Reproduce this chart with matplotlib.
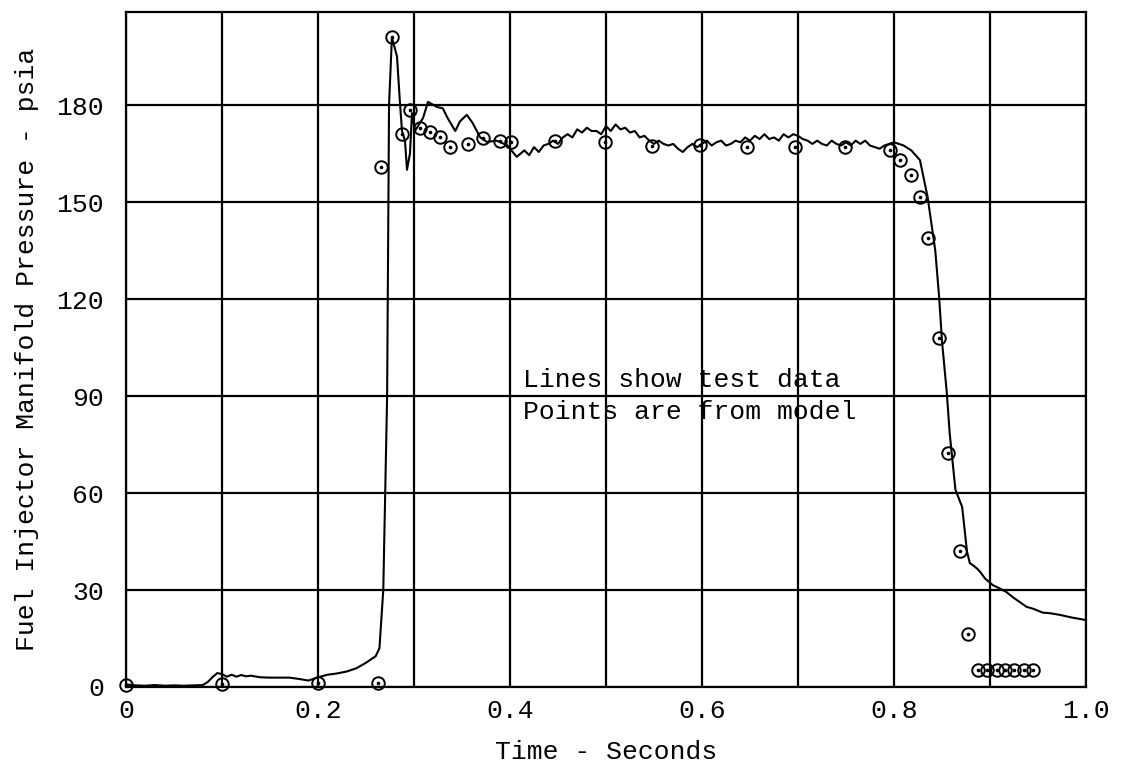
import matplotlib
matplotlib.use("Agg")
import matplotlib.pyplot as plt
from matplotlib.ticker import MultipleLocator

# ---- test data (line) ----
line_t = [0.0, 0.01, 0.02, 0.03, 0.04, 0.05, 0.06, 0.07, 0.08, 0.085, 0.09, 0.095,
          0.10, 0.105, 0.11, 0.115, 0.12, 0.125, 0.13, 0.14, 0.15, 0.16, 0.17, 0.18,
          0.19, 0.20, 0.21, 0.22, 0.23, 0.24, 0.25, 0.26, 0.264, 0.268, 0.272, 0.274,
          0.277, 0.2823, 0.2854, 0.2875, 0.2906, 0.2927, 0.2958, 0.2979, 0.301, 0.3094,
          0.3146, 0.324, 0.330, 0.335, 0.343, 0.348, 0.355, 0.361, 0.369, 0.376, 0.386,
          0.397, 0.407,
          0.415, 0.42, 0.425, 0.43, 0.435, 0.44, 0.445, 0.45, 0.455, 0.46, 0.465, 0.47,
          0.475, 0.48, 0.485, 0.49, 0.495, 0.50, 0.505, 0.51, 0.515, 0.52, 0.525, 0.53,
          0.535, 0.54, 0.545, 0.55, 0.555, 0.56, 0.565, 0.57, 0.575, 0.58, 0.585, 0.59,
          0.595, 0.60, 0.605, 0.61, 0.615, 0.62, 0.625, 0.63, 0.635, 0.64, 0.645, 0.65,
          0.655, 0.66, 0.665, 0.67, 0.675, 0.68, 0.685, 0.69, 0.695, 0.70, 0.705, 0.71,
          0.715, 0.72, 0.725, 0.73, 0.735, 0.74, 0.745, 0.75, 0.755, 0.76, 0.765, 0.77,
          0.775, 0.78, 0.785, 0.79, 0.795, 0.80, 0.805, 0.81, 0.818, 0.827, 0.835,
          0.843, 0.847, 0.85, 0.855, 0.858, 0.864, 0.871, 0.876, 0.879, 0.883, 0.887,
          0.89, 0.895, 0.903, 0.91, 0.917, 0.925, 0.93, 0.938, 0.945, 0.955, 0.963,
          0.973, 0.985, 1.0]
line_p = [0.8, 0.5, 0.4, 0.6, 0.4, 0.5, 0.4, 0.5, 0.6, 1.5, 3.0, 4.3,
          4.0, 3.2, 3.8, 3.2, 3.7, 3.3, 3.5, 3.0, 2.9, 2.9, 2.9, 2.5,
          2.0, 3.0, 3.8, 4.2, 4.8, 5.8, 7.5, 9.5, 12, 30, 90, 180,
          201, 195, 180.6, 172, 169, 160, 165, 177.5, 172, 176,
          181, 179.4, 179, 176, 172, 175, 177, 174.5, 170, 168.6, 169,
          167.6, 164,
          166, 164.5, 167, 165.5, 167.5, 168, 169, 168, 170, 171, 170, 172.5,
          171.5, 173, 172, 172, 171, 173.5, 172, 174, 172.5, 173, 171.5, 172,
          170, 170.5, 169, 168, 169, 168, 167.5, 168, 166.5, 165.5, 167, 168,
          167, 168, 169, 167.5, 168.5, 169, 167.5, 168, 169, 168.5, 170, 169,
          170.5, 169.5, 171, 169.5, 170, 169, 171, 170, 171, 170.5, 169.5, 169,
          168, 169, 168, 167.5, 169, 168, 167.5, 168.5, 167.5, 169, 168, 169,
          167.5, 167, 166.5, 167.5, 168, 168.5, 168, 167.5, 166, 163, 151.6,
          135, 120.6, 107, 91, 78.5, 61, 55.7, 42, 38.3, 37.5, 36.5,
          35.5, 33.5, 31.5, 30.5, 29.4, 27.5, 26.5, 24.8, 24.2, 23, 22.8,
          22.3, 21.5, 20.7]

# ---- model points ----
model_t = [0.0, 0.1, 0.2, 0.262, 0.266, 0.277, 0.287, 0.296, 0.306, 0.317, 0.327,
           0.338, 0.356, 0.372, 0.390, 0.401, 0.447, 0.499, 0.548, 0.598, 0.647,
           0.697, 0.749, 0.796, 0.806, 0.818, 0.827, 0.835, 0.847, 0.856, 0.869,
           0.877, 0.887, 0.897, 0.907, 0.916, 0.925, 0.935, 0.945]
model_p = [0.6, 1.0, 1.2, 1.2, 161, 201, 171, 178.5, 173, 171.7, 170,
           167, 168, 169.8, 169, 168.6, 169, 168.6, 167.3, 167.6, 167,
           167, 167, 166, 163, 158.4, 151.6, 139, 108, 72.4, 42,
           16.4, 5.3, 5.3, 5.3, 5.3, 5.3, 5.3, 5.3]

x_major = [0.0, 0.2, 0.4, 0.6, 0.8, 1.0]
x_labels = ["0", "0.2", "0.4", "0.6", "0.8", "1.0"]
y_major = [0, 30, 60, 90, 120, 150, 180]
y_labels = ["0", "30", "60", "90", "120", "150", "180"]

note_text = "Lines show test data\nPoints are from model"

FONT = ["Liberation Mono", "DejaVu Sans Mono"]
plt.rcParams["font.family"] = FONT
FS = 19

fig = plt.figure(figsize=(11.23, 7.68), dpi=100)
ax = fig.add_axes([126 / 1123, 1 - 687 / 768, (1086 - 126) / 1123, (687 - 12) / 768])

ax.set_xlim(0, 1.0)
ax.set_ylim(0, 208.8)

ax.xaxis.set_minor_locator(MultipleLocator(0.1))
ax.set_xticks(x_major)
ax.set_xticklabels(x_labels)
ax.set_yticks(y_major)
ax.set_yticklabels(y_labels)
ax.grid(True, which="both", color="black", linewidth=1.6)
ax.set_axisbelow(True)
ax.tick_params(axis="both", which="both", length=0)
ax.tick_params(axis="x", pad=9, labelsize=FS)
ax.tick_params(axis="y", pad=16, labelsize=FS)
for s in ax.spines.values():
    s.set_linewidth(1.6)
    s.set_color("black")

ax.plot(line_t, line_p, color="black", linewidth=1.5, zorder=3, clip_on=False)
ax.plot(model_t, model_p, linestyle="none", marker="o", markersize=9,
        markerfacecolor="none", markeredgecolor="black", markeredgewidth=1.4,
        zorder=4, clip_on=False)
ax.plot(model_t, model_p, linestyle="none", marker="o", markersize=1.6,
        color="black", zorder=5, clip_on=False)

ax.text(0.4135, 90.0, note_text, fontsize=FS, ha="left", va="center",
        linespacing=1.4, zorder=6)

ax.set_xlabel("Time - Seconds", fontsize=FS, labelpad=12)
ax.set_ylabel("Fuel Injector Manifold Pressure - psia", fontsize=FS, labelpad=12)

fig.savefig("out.png", dpi=100)
